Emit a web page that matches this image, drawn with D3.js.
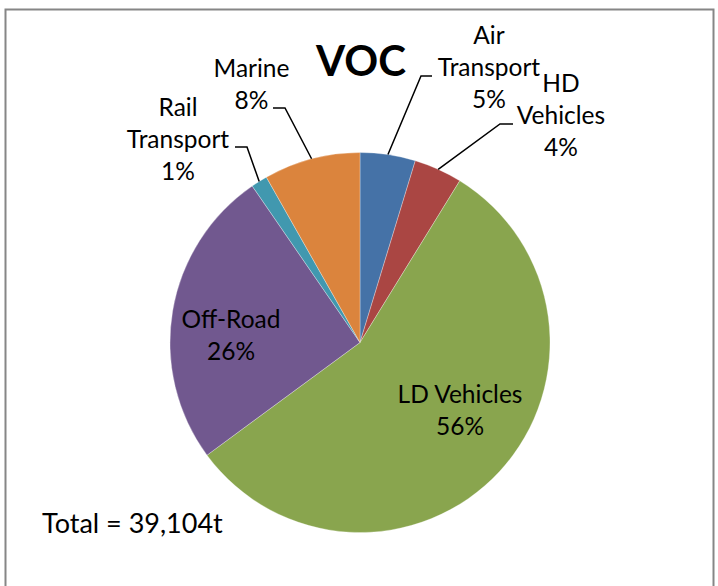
<!DOCTYPE html>
<html>
<head>
<meta charset="utf-8">
<script src="https://cdn.jsdelivr.net/npm/d3@7"></script>
<style>
html,body{margin:0;padding:0;background:#fff;}
svg{display:block;}
text{font-family:Lato,"Open Sans",sans-serif;fill:#000;}
</style>
</head>
<body>
<svg id="chart" width="718" height="586"></svg>
<script>
// ---- data ----
const categories = ["Air Transport", "HD Vehicles", "LD Vehicles", "Off-Road", "Rail Transport", "Marine"];
const shares = [4.7, 4.1, 56.1, 25.5, 1.4, 8.2];   // percent of total
const labelLines = [["Air", "Transport"], ["HD", "Vehicles"], ["LD Vehicles"], ["Off-Road"], ["Rail", "Transport"], ["Marine"]];
const colors = ["#4572A7", "#AA4643", "#89A54E", "#71588F", "#4198AF", "#DB843D"];
const title = "VOC";
const totalText = "Total = 39,104t";

// ---- layout (positions, not data) ----
const cx = 360, cy = 342.5, radius = 190;
const labelPos = [
  {x: 489, y: 44},
  {x: 561, y: 92},
  {x: 460, y: 403},
  {x: 231, y: 328},
  {x: 178, y: 116},
  {x: 251.5, y: 77}
];
// elbow of leader line and end of horizontal segment (null = no leader)
const leaders = [
  {ex: 421, ey: 76, hx: 432},
  {ex: 500, ey: 124, hx: 513},
  null,
  null,
  {ex: 247, ey: 147, hx: 235},
  {ex: 285, ey: 108, hx: 273}
];
const lineGap = 32;
const fontSize = 24.5;

const svg = d3.select("#chart");

// frame
svg.append("rect")
  .attr("x", 5.5).attr("y", 9.5).attr("width", 708).attr("height", 600)
  .attr("fill", "#fff").attr("stroke", "#868686").attr("stroke-width", 2);

const data = categories.map((c, i) => ({name: c, value: shares[i], i}));

const pie = d3.pie().value(d => d.value).sort(null).startAngle(0).endAngle(2 * Math.PI);
const arc = d3.arc().innerRadius(0).outerRadius(radius);
const arcs = pie(data);

const g = svg.append("g").attr("transform", `translate(${cx},${cy})`);
g.selectAll("path.slice").data(arcs).enter().append("path")
  .attr("class", "slice")
  .attr("d", arc)
  .attr("fill", d => colors[d.data.i])
  .attr("stroke", "#fff").attr("stroke-width", 0.5).attr("stroke-opacity", 0.6);

// leader lines
arcs.forEach(a => {
  const L = leaders[a.data.i];
  if (!L) return;
  const mid = (a.startAngle + a.endAngle) / 2;
  const px = cx + radius * Math.sin(mid);
  const py = cy - radius * Math.cos(mid);
  svg.append("path")
    .attr("d", `M${px},${py}L${L.ex},${L.ey}L${L.hx},${L.ey}`)
    .attr("fill", "none").attr("stroke", "#000").attr("stroke-width", 1.5);
});

// labels
arcs.forEach(a => {
  const i = a.data.i;
  const p = labelPos[i];
  const lines = labelLines[i].concat([Math.round(shares[i]) + "%"]);
  const t = svg.append("text")
    .attr("text-anchor", "middle")
    .attr("font-size", fontSize);
  lines.forEach((ln, k) => {
    t.append("tspan").attr("x", p.x).attr("y", p.y + k * lineGap).text(ln);
  });
});

// title
svg.append("text")
  .attr("x", 361).attr("y", 76)
  .attr("text-anchor", "middle")
  .attr("font-size", 42).attr("font-weight", "bold")
  .text(title);

// total
svg.append("text")
  .attr("x", 42).attr("y", 533)
  .attr("font-size", 27)
  .text(totalText);
</script>
</body>
</html>
